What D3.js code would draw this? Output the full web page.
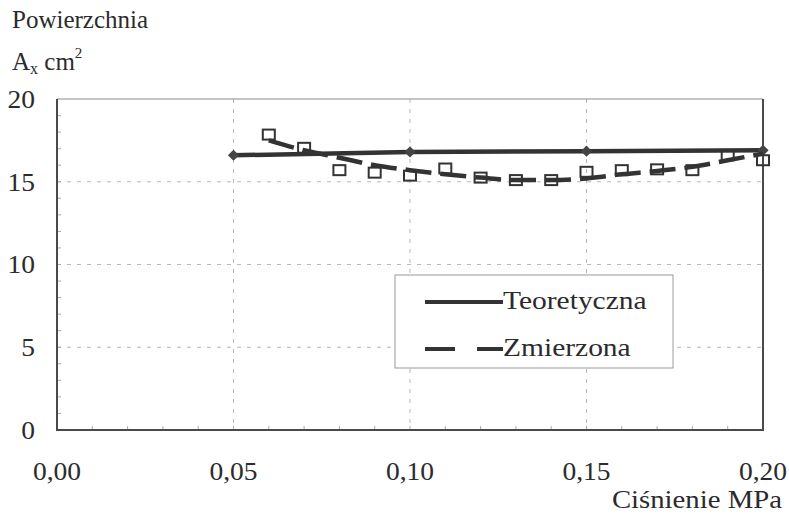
<!DOCTYPE html>
<html>
<head>
<meta charset="utf-8">
<script src="https://cdn.jsdelivr.net/npm/d3@7"></script>
<style>
  html, body { margin: 0; padding: 0; background: #fff; }
  svg { display: block; }
</style>
</head>
<body>
<svg id="chart" width="789" height="517"></svg>
<script>
// Pressure values (MPa)
const theoryX = [0.05, 0.10, 0.15, 0.20];
// Theoretical surface A_x (cm²)
const theoryY = [16.6, 16.8, 16.85, 16.9];

const measuredX = [0.06, 0.07, 0.08, 0.09, 0.10, 0.11, 0.12, 0.13, 0.14, 0.15, 0.16, 0.17, 0.18, 0.19, 0.20];
// Measured surface A_x (cm²)
const measuredY = [17.85, 17.05, 15.7, 15.55, 15.37, 15.8, 15.25, 15.1, 15.1, 15.6, 15.7, 15.75, 15.7, 16.6, 16.3];
// Smoothed trend of the measured series
const trendY = [17.5, 16.9, 16.45, 16.0, 15.7, 15.45, 15.25, 15.1, 15.1, 15.2, 15.45, 15.65, 15.9, 16.3, 16.7];

const xTicks = [0, 0.05, 0.10, 0.15, 0.20];
const yTicks = [0, 5, 10, 15, 20];
const legendLabels = ["Teoretyczna", "Zmierzona"];

const svg = d3.select("#chart");
const ink = "#2b2b2b";
const plotL = 57, plotR = 763, plotT = 99, plotB = 430;

const x = d3.scaleLinear().domain([0, 0.2]).range([plotL, plotR]);
const y = d3.scaleLinear().domain([0, 20]).range([plotB, plotT]);

const pl = d3.formatLocale({ decimal: ",", thousands: " ", grouping: [3], currency: ["", " zł"] });
const fmtX = pl.format(".2f");

// grid lines
const grid = svg.append("g").attr("stroke", "#b8b8b8").attr("stroke-width", 1).attr("stroke-dasharray", "4,6");
grid.selectAll("line.v").data(xTicks.filter(d => d > 0 && d < 0.2)).join("line")
  .attr("x1", d => x(d)).attr("x2", d => x(d)).attr("y1", plotT).attr("y2", plotB);
grid.selectAll("line.h").data(yTicks.filter(d => d > 0 && d < 20)).join("line")
  .attr("x1", plotL).attr("x2", plotR).attr("y1", d => y(d)).attr("y2", d => y(d));

// minor inward ticks
const minor = svg.append("g").attr("stroke", "#a8a8a8").attr("stroke-width", 1);
minor.selectAll("line.mx").data(d3.range(1, 20).map(i => i / 100)).join("line")
  .attr("x1", d => x(d)).attr("x2", d => x(d)).attr("y1", plotB).attr("y2", plotB - 4);
minor.selectAll("line.my").data(d3.range(1, 20)).join("line")
  .attr("x1", plotL).attr("x2", plotL + 4).attr("y1", d => y(d)).attr("y2", d => y(d));

// plot frame
svg.append("line").attr("x1", plotL).attr("x2", plotR).attr("y1", plotT).attr("y2", plotT)
  .attr("stroke", "#8a8a8a").attr("stroke-width", 1);
svg.append("path")
  .attr("d", `M${plotL},${plotT}V${plotB}H${plotR}V${plotT}`)
  .attr("fill", "none").attr("stroke", "#4a4a4a").attr("stroke-width", 2);

// axis labels
svg.append("g").selectAll("text").data(xTicks).join("text")
  .attr("transform", d => `translate(${x(d)},480) scale(1.1,1)`)
  .attr("text-anchor", "middle").attr("font-size", 25)
  .text(d => fmtX(d));
svg.append("g").selectAll("text").data(yTicks).join("text")
  .attr("transform", d => `translate(35,${y(d)}) scale(1.1,1)`)
  .attr("text-anchor", "end").attr("dy", "0.35em").attr("font-size", 25)
  .text(d => d);

// axis titles
svg.append("text").attr("x", 12).attr("y", 28).attr("font-size", 25).text("Powierzchnia");
const yt = svg.append("text").attr("x", 12).attr("y", 70).attr("font-size", 25);
yt.append("tspan").text("A");
yt.append("tspan").attr("font-size", 16).attr("dy", 4).text("x");
yt.append("tspan").attr("dy", -4).text(" cm");
yt.append("tspan").attr("font-size", 15).attr("dy", -12).text("2");
svg.append("text")
  .attr("transform", "translate(782,508) scale(1.15,1)")
  .attr("text-anchor", "end").attr("font-size", 25).text("Ciśnienie MPa");

// theoretical series
const theory = theoryX.map((d, i) => [d, theoryY[i]]);
svg.append("path").datum(theory)
  .attr("d", d3.line().x(d => x(d[0])).y(d => y(d[1])))
  .attr("fill", "none").attr("stroke", "#333").attr("stroke-width", 4.5);
svg.append("g").selectAll("path").data(theory).join("path")
  .attr("d", d3.symbol(d3.symbolDiamond2, 80))
  .attr("transform", d => `translate(${x(d[0])},${y(d[1])})`)
  .attr("fill", "#444");

// measured series: markers and dashed trend
const measured = measuredX.map((d, i) => [d, measuredY[i]]);
const trend = measuredX.map((d, i) => [d, trendY[i]]);
svg.append("g").selectAll("rect").data(measured).join("rect")
  .attr("x", d => x(d[0]) - 6).attr("y", d => y(d[1]) - 5)
  .attr("width", 12).attr("height", 10)
  .attr("fill", "none").attr("stroke", "#333").attr("stroke-width", 2);
svg.append("path").datum(trend)
  .attr("d", d3.line().x(d => x(d[0])).y(d => y(d[1])).curve(d3.curveMonotoneX))
  .attr("fill", "none").attr("stroke", "#333").attr("stroke-width", 4.5)
  .attr("stroke-dasharray", "26,9");

// legend
const lg = svg.append("g");
lg.append("rect").attr("x", 395).attr("y", 275).attr("width", 278).attr("height", 93)
  .attr("fill", "#fff").attr("stroke", "#9a9a9a").attr("stroke-width", 1);
lg.append("line").attr("x1", 425).attr("x2", 503).attr("y1", 302).attr("y2", 302)
  .attr("stroke", "#333").attr("stroke-width", 4);
lg.append("line").attr("x1", 425).attr("x2", 503).attr("y1", 349).attr("y2", 349)
  .attr("stroke", "#333").attr("stroke-width", 4).attr("stroke-dasharray", "30,22");
lg.selectAll("text").data(legendLabels).join("text")
  .attr("transform", (d, i) => `translate(503,${309 + i * 47}) scale(1.18,1)`)
  .attr("font-size", 25).text(d => d);

// serif typeface and ink colour for every label
svg.selectAll("text")
  .style("font-family", "'Liberation Serif'")
  .attr("fill", ink);
</script>
</body>
</html>
